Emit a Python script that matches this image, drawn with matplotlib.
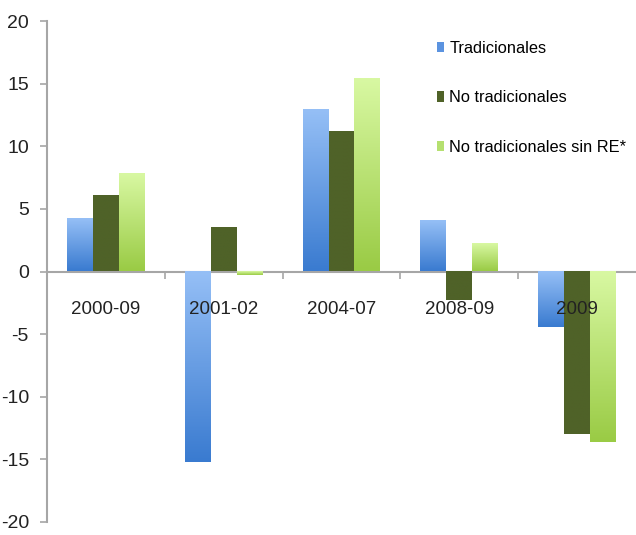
import matplotlib
matplotlib.use("Agg")
import matplotlib.pyplot as plt
import numpy as np
from matplotlib.colors import LinearSegmentedColormap
from matplotlib.patches import Patch

categories = ["2000-09", "2001-02", "2004-07", "2008-09", "2009"]
series_names = ["Tradicionales", "No tradicionales", "No tradicionales sin RE*"]
tradicionales = [4.2, -15.2, 12.9, 4.0, -4.4]
no_tradicionales = [6.0, 3.5, 11.1, -2.3, -13.0]
no_trad_sin_re = [7.8, -0.3, 15.4, 2.2, -13.6]
y_ticks = [-20, -15, -10, -5, 0, 5, 10, 15, 20]

# (top colour, bottom colour) for each series
GRADIENTS = [("#95bff6", "#3a7bd0"), ("#4f6228", "#4f6228"), ("#d8f8a2", "#9acb45")]
LEGEND_COLORS = ["#5b93e0", "#4f6228", "#b5e070"]
SPINE = "#a6a6a6"

plt.rcParams["font.family"] = ["Liberation Sans", "DejaVu Sans"]

fig = plt.figure(figsize=(6.36, 5.35), dpi=100)
ax = fig.add_axes([47 / 636, 13 / 535, 589 / 636, 501 / 535])

x = np.arange(len(categories))
width = 0.22
all_series = [tradicionales, no_tradicionales, no_trad_sin_re]

for i, values in enumerate(all_series):
    bars = ax.bar(x + (i - 1) * width, values, width, color="none", linewidth=0, zorder=2)
    cmap = LinearSegmentedColormap.from_list(f"g{i}", [GRADIENTS[i][1], GRADIENTS[i][0]])
    grad = np.linspace(0, 1, 100).reshape(-1, 1)
    for b in bars:
        x0, y0 = b.get_x(), b.get_y()
        h = b.get_height()
        lo, hi = min(y0, y0 + h), max(y0, y0 + h)
        ax.imshow(grad, cmap=cmap, origin="lower", aspect="auto",
                  extent=[x0, x0 + b.get_width(), lo, hi], zorder=2)

for i, cat in enumerate(categories):
    ax.text(x[i], -3.0, cat, ha="center", va="center", fontsize=13.5, color="#222222", zorder=5)

ax.set_xlim(-0.5, len(categories) - 0.5)
ax.set_ylim(-20, 20)
ax.set_yticks(y_ticks)
ax.set_yticklabels([str(t) for t in y_ticks], fontsize=14, color="#222222")
ax.set_xticks(x[:-1] + 0.5)
ax.set_xticklabels([])

for side in ["top", "right"]:
    ax.spines[side].set_visible(False)
ax.spines["bottom"].set_position(("data", 0))
ax.spines["bottom"].set_color(SPINE)
ax.spines["left"].set_color(SPINE)
ax.spines["bottom"].set_linewidth(1.5)
ax.spines["left"].set_linewidth(1.5)
ax.spines["bottom"].set_zorder(1)
ax.tick_params(axis="y", direction="out", length=5, color=SPINE, width=1.2, pad=8)
ax.tick_params(axis="x", direction="out", length=5, color=SPINE, width=1.2)

handles = [Patch(facecolor=c, edgecolor="none") for c in LEGEND_COLORS]
ax.legend(handles, series_names, loc="upper left", bbox_to_anchor=(437 / 636, 1 - 41 / 535),
          bbox_transform=fig.transFigure, frameon=False, fontsize=11.8,
          handlelength=0.45, handleheight=0.6, handletextpad=0.3, labelspacing=2.1,
          borderaxespad=0, borderpad=0)

fig.savefig("out.png", dpi=100)
